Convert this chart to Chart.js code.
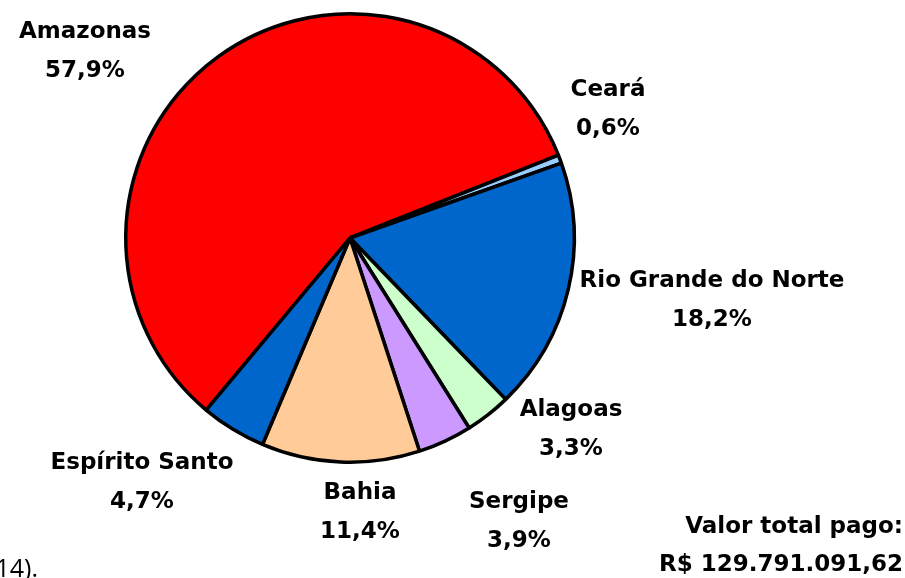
<!DOCTYPE html>
<html>
<head>
<meta charset="utf-8">
<script src="https://cdn.jsdelivr.net/npm/chart.js@4"></script>
<style>
  html, body { margin: 0; padding: 0; background: #fff; }
  #wrap { width: 905px; height: 578px; position: relative; }
</style>
</head>
<body>
<div id="wrap"><canvas id="pieChart" width="905" height="578"></canvas></div>
<script>
const states = ['Amazonas', 'Ceará', 'Rio Grande do Norte', 'Alagoas', 'Sergipe', 'Bahia', 'Espírito Santo'];
const shares = [57.9, 0.6, 18.2, 3.3, 3.9, 11.4, 4.7];
const sliceColors = ['#FF0000', '#99CCFF', '#0066CC', '#CCFFCC', '#CC99FF', '#FFCC99', '#0066CC'];
const totalLines = ['Valor total pago:', 'R$ 129.791.091,62'];

// where each label's two lines sit (centre x, first line y)
const labelPos = {
  'Amazonas': [85, 32],
  'Ceará': [608, 90],
  'Rio Grande do Norte': [712, 281],
  'Alagoas': [571, 410],
  'Sergipe': [519, 502],
  'Bahia': [360, 493],
  'Espírito Santo': [142, 463],
};

const fmt = v => v.toFixed(1).replace('.', ',') + '%';

const labelsPlugin = {
  id: 'pieLabels',
  afterDraw(chart) {
    const ctx = chart.ctx;
    ctx.save();
    ctx.fillStyle = '#000';
    ctx.textBaseline = 'middle';
    ctx.textAlign = 'center';
    ctx.font = 'bold 23px "DejaVu Sans"';
    states.forEach((s, i) => {
      const [x, y] = labelPos[s];
      ctx.fillText(s, x, y);
      ctx.fillText(fmt(shares[i]), x, y + 39);
    });
    ctx.textAlign = 'right';
    ctx.fillText(totalLines[0], 903, 527);
    ctx.fillText(totalLines[1], 903, 565);
    // cut-off source note
    ctx.font = '25px "Open Sans"';
    ctx.textBaseline = 'alphabetic';
    ctx.fillText('14).', 38, 577);
    ctx.restore();
  },
};

new Chart(document.getElementById('pieChart'), {
  type: 'pie',
  data: {
    labels: states,
    datasets: [
      {
        data: shares,
        backgroundColor: sliceColors,
        borderColor: '#000',
        borderWidth: 3.5,
      },
    ],
  },
  options: {
    responsive: false,
    animation: false,
    rotation: 219.9,
    layout: {
      padding: { left: 124, top: 12, right: 329, bottom: 114 },
    },
    plugins: {
      legend: { display: false },
      tooltip: { enabled: false },
    },
  },
  plugins: [labelsPlugin],
});
</script>
</body>
</html>
